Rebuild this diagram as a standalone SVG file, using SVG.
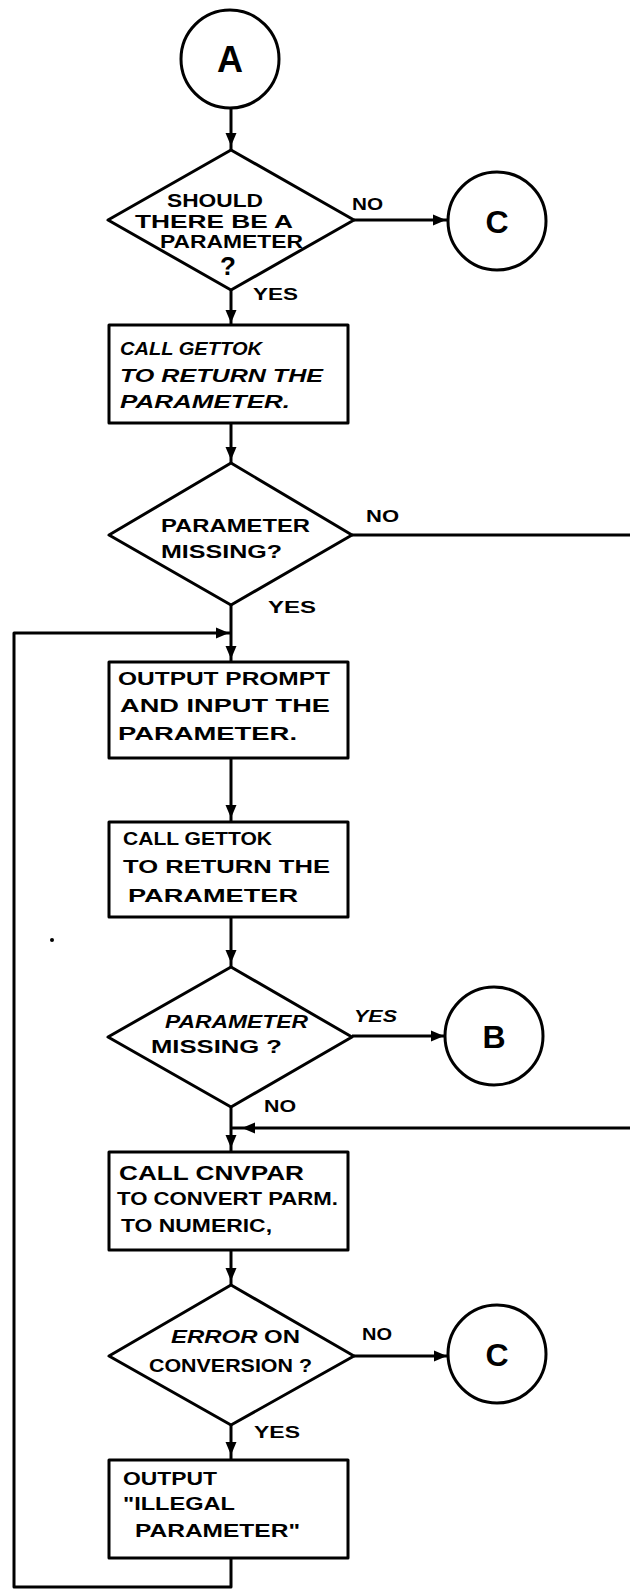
<svg xmlns="http://www.w3.org/2000/svg" width="630" height="1591" viewBox="0 0 630 1591">
  <style>
    .shape { fill: #fff; stroke: #000; stroke-width: 3; stroke-linejoin: round; }
    .wire { fill: none; stroke: #000; stroke-width: 3; stroke-linejoin: round; }
    .t { font-family: "Liberation Sans", Arial, sans-serif; font-weight: bold; font-size: 18px; fill: #000; }
    .it { font-style: italic; }
    .big { font-size: 36px; text-anchor: middle; }
    .mid { font-size: 32px; text-anchor: middle; }
    .lbl { font-size: 17px; }
    .d1 { font-size: 19px; }
    .q { font-size: 26px; text-anchor: middle; }
    .hd { font-size: 21px; }
  </style>
  <defs>
    <path id="ah" d="M0,0 L-13,-5.5 L-13,5.5 Z" fill="#000"/>
  </defs>

  <!-- connectors -->
  <g id="connectors">
    <path class="wire" d="M231,108 V150"/>
    <path class="wire" d="M354,220 H448"/>
    <path class="wire" d="M231,290 V325"/>
    <path class="wire" d="M231,423 V463"/>
    <path class="wire" d="M352,535 H630"/>
    <path class="wire" d="M231,605 V662"/>
    <path class="wire" d="M231,1558 V1587 H14 V633 H231"/>
    <path class="wire" d="M231,758 V822"/>
    <path class="wire" d="M231,917 V967"/>
    <path class="wire" d="M352,1036 H445"/>
    <path class="wire" d="M231,1107 V1152"/>
    <path class="wire" d="M630,1128 H231"/>
    <path class="wire" d="M231,1250 V1285"/>
    <path class="wire" d="M354,1356 H449"/>
    <path class="wire" d="M231,1425 V1460"/>

    <use href="#ah" transform="translate(231,146) rotate(90)"/>
    <use href="#ah" transform="translate(446,220)"/>
    <use href="#ah" transform="translate(231,323) rotate(90)"/>
    <use href="#ah" transform="translate(231,460) rotate(90)"/>
    <use href="#ah" transform="translate(229,633)"/>
    <use href="#ah" transform="translate(231,659) rotate(90)"/>
    <use href="#ah" transform="translate(231,818) rotate(90)"/>
    <use href="#ah" transform="translate(231,963) rotate(90)"/>
    <use href="#ah" transform="translate(444,1036)"/>
    <use href="#ah" transform="translate(242,1128) rotate(180)"/>
    <use href="#ah" transform="translate(231,1148) rotate(90)"/>
    <use href="#ah" transform="translate(231,1281) rotate(90)"/>
    <use href="#ah" transform="translate(447,1356)"/>
    <use href="#ah" transform="translate(231,1455) rotate(90)"/>

    <text class="t lbl" x="352" y="210" textLength="31" lengthAdjust="spacingAndGlyphs">NO</text>
    <text class="t lbl" x="253" y="300" textLength="45" lengthAdjust="spacingAndGlyphs">YES</text>
    <text class="t lbl" x="366" y="522" textLength="33" lengthAdjust="spacingAndGlyphs">NO</text>
    <text class="t lbl" x="268" y="613" textLength="48" lengthAdjust="spacingAndGlyphs">YES</text>
    <text class="t lbl it" x="354" y="1022" textLength="43" lengthAdjust="spacingAndGlyphs">YES</text>
    <text class="t lbl" x="264" y="1112" textLength="32" lengthAdjust="spacingAndGlyphs">NO</text>
    <text class="t lbl" x="362" y="1340" textLength="30" lengthAdjust="spacingAndGlyphs">NO</text>
    <text class="t lbl" x="254" y="1438" textLength="46" lengthAdjust="spacingAndGlyphs">YES</text>
  </g>

  <!-- connector A -->
  <g id="conn-a">
    <circle class="shape" cx="230" cy="59" r="49"/>
    <text class="t big" x="230" y="72">A</text>
  </g>

  <!-- decision: parameter expected -->
  <g id="dec-should">
    <path class="shape" d="M231,150 L354,220 L231,290 L108,220 Z"/>
    <text class="t d1" x="167" y="207" textLength="96" lengthAdjust="spacingAndGlyphs">SHOULD</text>
    <text class="t d1" x="135" y="228" textLength="158" lengthAdjust="spacingAndGlyphs">THERE BE A</text>
    <text class="t d1" x="160" y="248" textLength="143" lengthAdjust="spacingAndGlyphs">PARAMETER</text>
    <text class="t q" x="228" y="275">?</text>
  </g>

  <!-- connector C (top) -->
  <g id="conn-c1">
    <circle class="shape" cx="497" cy="221" r="49"/>
    <text class="t mid" x="497" y="233">C</text>
  </g>

  <!-- first GETTOK call -->
  <g id="box-gettok1">
    <rect class="shape" x="109" y="325" width="239" height="98"/>
    <text class="t it" x="120" y="355" textLength="142" lengthAdjust="spacingAndGlyphs">CALL GETTOK</text>
    <text class="t it" x="120" y="382" textLength="203" lengthAdjust="spacingAndGlyphs">TO RETURN THE</text>
    <text class="t it" x="120" y="408" textLength="170" lengthAdjust="spacingAndGlyphs">PARAMETER.</text>
  </g>

  <!-- decision: parameter missing (first) -->
  <g id="dec-missing1">
    <path class="shape" d="M231,463 L352,535 L231,605 L109,535 Z"/>
    <text class="t" x="161" y="532" textLength="149" lengthAdjust="spacingAndGlyphs">PARAMETER</text>
    <text class="t" x="161" y="558" textLength="121" lengthAdjust="spacingAndGlyphs">MISSING?</text>
  </g>

  <!-- prompt for input -->
  <g id="box-prompt">
    <rect class="shape" x="109" y="662" width="239" height="96"/>
    <text class="t" x="118" y="685" textLength="212" lengthAdjust="spacingAndGlyphs">OUTPUT PROMPT</text>
    <text class="t" x="120" y="712" textLength="210" lengthAdjust="spacingAndGlyphs">AND INPUT THE</text>
    <text class="t" x="118" y="740" textLength="179" lengthAdjust="spacingAndGlyphs">PARAMETER.</text>
  </g>

  <!-- second GETTOK call -->
  <g id="box-gettok2">
    <rect class="shape" x="109" y="822" width="239" height="95"/>
    <text class="t" x="123" y="845" textLength="149" lengthAdjust="spacingAndGlyphs">CALL GETTOK</text>
    <text class="t" x="123" y="873" textLength="207" lengthAdjust="spacingAndGlyphs">TO RETURN THE</text>
    <text class="t" x="128" y="902" textLength="170" lengthAdjust="spacingAndGlyphs">PARAMETER</text>
  </g>

  <!-- stray ink mark -->
  <circle cx="52" cy="940" r="2" fill="#000"/>

  <!-- decision: parameter missing (second) -->
  <g id="dec-missing2">
    <path class="shape" d="M231,967 L352,1037 L231,1107 L108,1037 Z"/>
    <text class="t it" x="165" y="1028" textLength="143" lengthAdjust="spacingAndGlyphs">PARAMETER</text>
    <text class="t" x="151" y="1053" textLength="131" lengthAdjust="spacingAndGlyphs">MISSING ?</text>
  </g>

  <!-- connector B -->
  <g id="conn-b">
    <circle class="shape" cx="494" cy="1036" r="49"/>
    <text class="t mid" x="494" y="1048">B</text>
  </g>

  <!-- CNVPAR call -->
  <g id="box-cnvpar">
    <rect class="shape" x="109" y="1152" width="239" height="98"/>
    <text class="t hd" x="119" y="1180" textLength="185" lengthAdjust="spacingAndGlyphs">CALL CNVPAR</text>
    <text class="t" x="117" y="1205" textLength="221" lengthAdjust="spacingAndGlyphs">TO CONVERT PARM.</text>
    <text class="t" x="121" y="1232" textLength="151" lengthAdjust="spacingAndGlyphs">TO NUMERIC,</text>
  </g>

  <!-- decision: conversion error -->
  <g id="dec-error">
    <path class="shape" d="M231,1285 L354,1356 L231,1425 L109,1356 Z"/>
    <text class="t" x="171" y="1343" textLength="129" lengthAdjust="spacingAndGlyphs"><tspan class="it">ERROR</tspan> ON</text>
    <text class="t" x="149" y="1372" textLength="163" lengthAdjust="spacingAndGlyphs">CONVERSION ?</text>
  </g>

  <!-- connector C (bottom) -->
  <g id="conn-c2">
    <circle class="shape" cx="497" cy="1354" r="49"/>
    <text class="t mid" x="497" y="1366">C</text>
  </g>

  <!-- illegal parameter message -->
  <g id="box-illegal">
    <rect class="shape" x="109" y="1460" width="239" height="98"/>
    <text class="t" x="123" y="1485" textLength="94" lengthAdjust="spacingAndGlyphs">OUTPUT</text>
    <text class="t" x="123" y="1510" textLength="112" lengthAdjust="spacingAndGlyphs">"ILLEGAL</text>
    <text class="t" x="135" y="1537" textLength="165" lengthAdjust="spacingAndGlyphs">PARAMETER"</text>
  </g>
</svg>
